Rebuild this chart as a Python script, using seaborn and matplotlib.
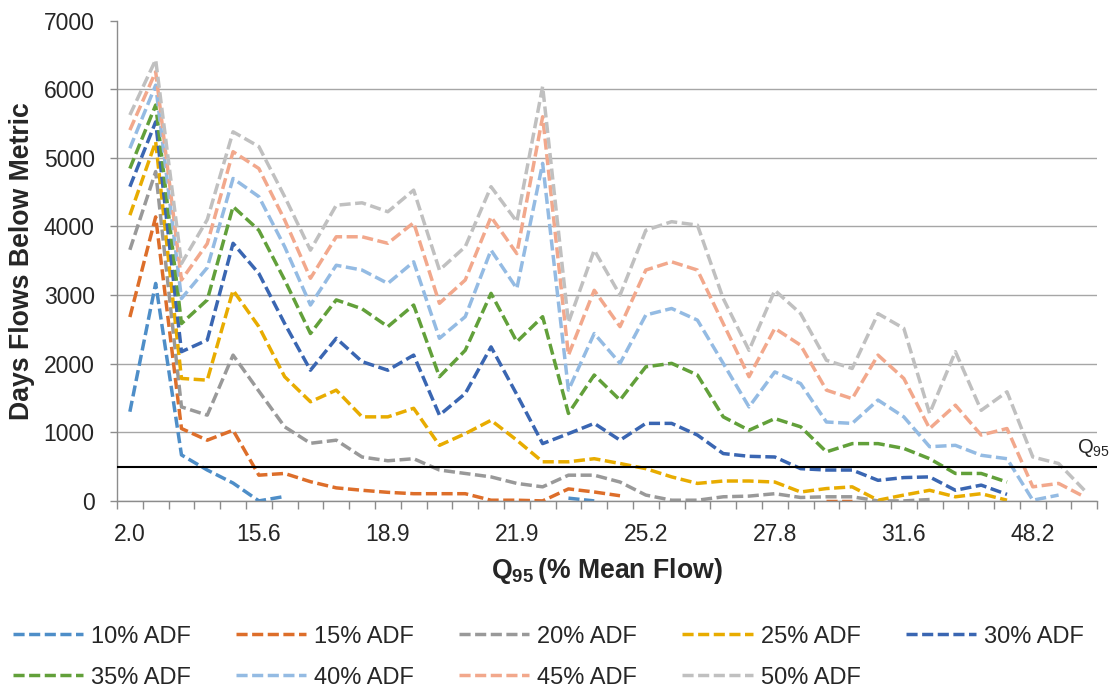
import numpy as np
import pandas as pd
import matplotlib
matplotlib.use("Agg")
import matplotlib.pyplot as plt
import seaborn as sns
from matplotlib.lines import Line2D

nan = np.nan

# x axis: 38 categories, only every 5th one carries a label
n_cat = 38
tick_pos = [0, 5, 10, 15, 20, 25, 30, 35]
tick_labels = ["2.0", "15.6", "18.9", "21.9", "25.2", "27.8", "31.6", "48.2"]

# days below metric for each ADF threshold (nan = no data)
adf10 = [1300, 3170, 670, 450, 260, 0, 65, nan, nan, nan,
         nan, nan, nan, nan, nan, nan, nan, 40, 0, nan,
         nan, nan, nan, nan, nan, nan, nan, nan, nan, nan,
         nan, nan, nan, nan, nan, nan, nan, nan]
adf15 = [2680, 4140, 1055, 885, 1030, 375, 400, 280, 190, 155,
         125, 105, 105, 105, 10, 10, 0, 175, 130, 75,
         nan, nan, nan, nan, nan, nan, nan, 0, 0, nan,
         nan, nan, nan, nan, nan, nan, nan, nan]
adf20 = [3660, 4800, 1370, 1250, 2125, 1600, 1080, 840, 885, 640,
         585, 615, 450, 400, 350, 255, 205, 375, 375, 275,
         85, 10, 10, 60, 70, 105, 50, 60, 60, 0,
         0, 20, nan, nan, nan, nan, nan, nan]
adf25 = [4165, 5235, 1785, 1760, 3070, 2540, 1810, 1445, 1615, 1225,
         1225, 1350, 810, 980, 1175, 885, 570, 570, 615, 545,
         470, 350, 255, 290, 290, 275, 130, 180, 205, 10,
         85, 155, 60, 105, 10, nan, nan, nan]
adf30 = [4580, 5525, 2175, 2345, 3755, 3315, 2585, 1905, 2370, 2030,
         1905, 2125, 1250, 1565, 2245, 1550, 835, 980, 1130, 885,
         1130, 1130, 960, 690, 650, 640, 470, 450, 450, 300,
         340, 350, 155, 230, 95, nan, nan, nan]
adf35 = [4845, 5770, 2585, 2930, 4290, 3945, 3220, 2440, 2930, 2800,
         2540, 2855, 1810, 2195, 3025, 2320, 2685, 1275, 1835, 1470,
         1955, 2005, 1835, 1225, 1030, 1200, 1080, 715, 835, 835,
         765, 615, 400, 400, 275, nan, nan, nan]
adf40 = [5140, 6060, 2950, 3400, 4700, 4435, 3705, 2855, 3435, 3365,
         3170, 3485, 2370, 2685, 3655, 3095, 4920, 1615, 2440, 2005,
         2710, 2805, 2635, 2005, 1370, 1880, 1710, 1150, 1130, 1470,
         1225, 790, 810, 665, 615, 10, 85, nan]
adf45 = [5405, 6255, 3220, 3750, 5090, 4845, 4095, 3245, 3850, 3850,
         3755, 4055, 2880, 3220, 4140, 3605, 5600, 2125, 3070, 2540,
         3365, 3485, 3365, 2585, 1810, 2515, 2270, 1615, 1490, 2125,
         1785, 1055, 1395, 960, 1055, 205, 255, 60]
adf50 = [5625, 6430, 3460, 4100, 5380, 5165, 4435, 3655, 4310, 4345,
         4215, 4530, 3365, 3705, 4580, 4070, 6040, 2600, 3655, 3000,
         3945, 4070, 4020, 2950, 2195, 3070, 2730, 2050, 1930, 2730,
         2515, 1275, 2175, 1320, 1590, 640, 545, 155]

names = ["10% ADF", "15% ADF", "20% ADF", "25% ADF", "30% ADF",
         "35% ADF", "40% ADF", "45% ADF", "50% ADF"]
values = [adf10, adf15, adf20, adf25, adf30, adf35, adf40, adf45, adf50]
colors = ["#4E8EC8", "#DD6E2A", "#999999", "#E8AC00", "#3A66B2",
          "#62A03A", "#94BBE3", "#F2A88C", "#C0C0C0"]
q95_level = 500

# long table, each unbroken run of points becomes its own unit
rows = []
for name, vals in zip(names, values):
    seg = 0
    gap = True
    for i, v in enumerate(vals):
        if np.isnan(v):
            gap = True
            continue
        if gap:
            seg += 1
            gap = False
        rows.append({"x": i, "days": v, "series": name, "seg": f"{name}_{seg}"})
df = pd.DataFrame(rows)

sns.set_style("ticks")
plt.rcParams['font.family'] = ['Liberation Sans', 'DejaVu Sans']
plt.rcParams['mathtext.fontset'] = 'custom'
plt.rcParams['mathtext.rm'] = 'Liberation Sans'
plt.rcParams['mathtext.bf'] = 'Liberation Sans:bold'
plt.rcParams['mathtext.it'] = 'Liberation Sans:italic'

dash = (3.2, 1.3)
lw = 2.5
fig, ax = plt.subplots(figsize=(11.14, 6.89), dpi=100)
fig.subplots_adjust(left=0.105, right=0.985, top=0.97, bottom=0.273)

sns.lineplot(data=df, x="x", y="days", hue="series", units="seg", estimator=None,
             hue_order=names, palette=dict(zip(names, colors)), lw=lw,
             legend=False, sort=False, ax=ax)
for line in ax.lines:
    line.set_dashes(dash)

ax.axhline(q95_level, color="black", lw=1.5, zorder=3)
ax.text(36.7, 700, r"Q$_{95}$", fontsize=14.5, ha="left", va="baseline", clip_on=False)

# axes
ax.set_xlim(-0.5, n_cat - 0.5)
ax.set_ylim(0, 7000)
ax.set_yticks(range(0, 7001, 1000))
ax.set_xticks(tick_pos)
ax.set_xticklabels(tick_labels)
ax.set_xticks(np.arange(-0.5, n_cat, 1), minor=True)
ax.tick_params(axis="x", which="major", length=0, pad=16, labelsize=16.5)
ax.tick_params(axis="x", which="minor", length=5.5, width=1, color="#8c8c8c", bottom=True)
ax.tick_params(axis="y", length=5, width=1, color="#8c8c8c", pad=11, labelsize=16.5)
ax.yaxis.grid(True, color="#a6a6a6", lw=1)
ax.set_axisbelow(True)
ax.get_ygridlines()[-1].set_visible(False)
for side in ["top", "right"]:
    ax.spines[side].set_visible(False)
for side in ["left", "bottom"]:
    ax.spines[side].set_color("#8c8c8c")
    ax.spines[side].set_linewidth(1)

ax.set_ylabel("Days Flows Below Metric", fontsize=19.2, fontweight="bold", labelpad=6)
ax.set_xlabel(r"$\mathbf{Q_{95}}\,$(% Mean Flow)", fontsize=19.2, fontweight="bold", labelpad=7)

# legend, 2 rows x 5 columns, filled row by row
handles = [Line2D([], [], color=c, lw=lw, dashes=dash) for c in colors]
order = [0, 5, 1, 6, 2, 7, 3, 8, 4]
fig.legend([handles[i] for i in order], [names[i] for i in order],
           loc="upper left", bbox_to_anchor=(0.0117, 0.092), ncol=5, frameon=False,
           fontsize=17, handlelength=2.97, handletextpad=0.34, columnspacing=1.91,
           labelspacing=0.8, borderpad=0, borderaxespad=0)

fig.savefig("out.png", dpi=100)
